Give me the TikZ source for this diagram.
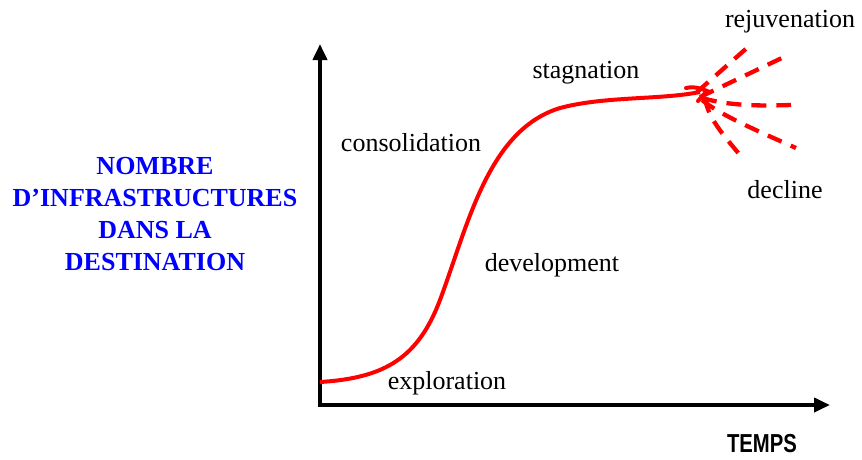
\documentclass[tikz,border=0pt]{standalone}
\usepackage{fontspec}
\setmainfont{Liberation Serif}
\newfontfamily\labsans{Liberation Sans}
\usetikzlibrary{arrows.meta}
\tikzset{
  axisline/.style={line width=3.8pt,-{Triangle[length=16pt,width=14pt]}},
  curveline/.style={red,line width=4pt},
  dashline/.style={red,line width=4.3pt,dash pattern=on 15pt off 10pt},
  lbl/.style={font=\fontsize{26}{30}\selectfont,inner sep=0pt},
  ylbl/.style={font=\fontsize{26}{32}\selectfont\bfseries,text=blue,align=center,inner sep=0pt},
  tlbl/.style={font=\labsans\fontsize{26}{28}\selectfont\bfseries,inner sep=0pt,xscale=0.78}
}
\begin{document}
\begin{tikzpicture}[x=1pt,y=-1pt]
\useasboundingbox (0,0) rectangle (862,459);
\coordinate (O) at (320,405);
\coordinate (Ytop) at (320,44);
\coordinate (Xend) at (830,405);
\draw[axisline] (320,407) -- (Ytop);
\draw[axisline] (318,405) -- (Xend);
% S-curve
\coordinate (c0) at (320,382);
\coordinate (c1) at (440,300);
\coordinate (c2) at (560,108);
\coordinate (F) at (700,92);
\draw[curveline] (c0) .. controls (385,378) and (418,358) .. (c1)
  .. controls (468,225) and (488,130) .. (c2)
  .. controls (605,96) and (660,100) .. (F);
\draw[curveline,line cap=round] (686,88) .. controls (695,86) and (702,89) .. (707,91) -- (698,101);
% fan
\coordinate (r1) at (748,47);
\coordinate (r2) at (784,57);
\coordinate (r3) at (791,105);
\coordinate (r4) at (796,148);
\coordinate (r5) at (744,160);
\draw[dashline] (697,92) -- (r1);
\draw[dashline] (700,97) -- (r2);
\draw[dashline] (702,98) .. controls (730,106) and (760,106) .. (r3);
\draw[dashline] (702,100) .. controls (720,115) and (760,132) .. (r4);
\draw[dashline] (705,98) .. controls (708,120) and (728,140) .. (r5);
% labels
\node[lbl] (rej) at (790,22) {rejuvenation};
\node[lbl] (stag) at (586,73) {stagnation};
\node[lbl] (cons) at (411,143) {consolidation};
\node[lbl] (decl) at (785,190) {decline};
\node[lbl] (dev) at (552,265) {development};
\node[lbl] (expl) at (447,383) {exploration};
\node[ylbl] (ylab) at (155,214) {NOMBRE\\D’INFRASTRUCTURES\\DANS LA\\DESTINATION};
\node[tlbl] (temps) at (762,444) {TEMPS};
\end{tikzpicture}
\end{document}
